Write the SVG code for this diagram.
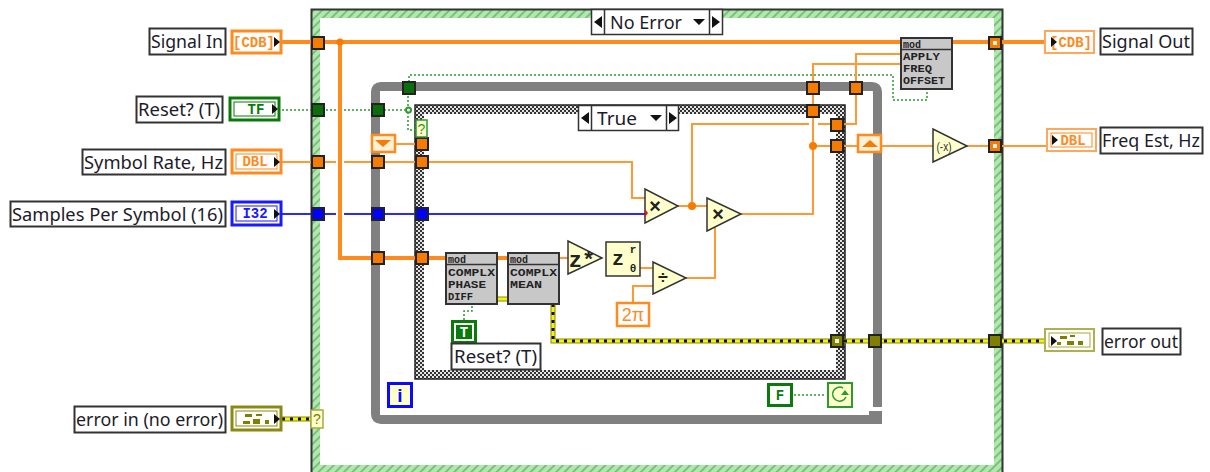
<svg xmlns="http://www.w3.org/2000/svg" width="1210" height="472" viewBox="0 0 1210 472">
<style>
.lbl{font-family:"Noto Sans","Open Sans","Liberation Sans",sans-serif;font-size:18px;fill:#1c1c2a}
.box{fill:#fff;stroke:#333;stroke-width:2}
.sel{fill:#fff;stroke:#333;stroke-width:1.5}
.or{fill:#f57c00;stroke:#222;stroke-width:2}
.gr{fill:#0a6e0a;stroke:#222;stroke-width:2}
.bl{fill:#0000ff;stroke:#222;stroke-width:2}
.ol{fill:#808000;stroke:#222;stroke-width:2}
.dot{fill:#eee;stroke:none}
.w1{fill:none;stroke:#ff9933;stroke-width:2}
.w2{fill:none;stroke:#ff8a1e;stroke-width:4}
.wb{fill:none;stroke:#2a2aff;stroke-width:2}
.wg{fill:none;stroke:#2c9a2c;stroke-width:1.500;stroke-dasharray:2 2}
.e1{fill:none;stroke:#8a8a10;stroke-width:5}
.e2{fill:none;stroke:#f5f500;stroke-width:3}
.e3{fill:none;stroke:#111;stroke-width:3;stroke-dasharray:3 5}
.prim{fill:#ffffcc;stroke:#333;stroke-width:1.5}
.sub{fill:#c8c8c8;stroke:#333;stroke-width:2}
.m{font-family:"Liberation Mono",monospace;font-weight:bold;fill:#222}
.s{font-size:10px}
.t{font-family:"Liberation Mono",monospace;font-weight:bold;font-size:14px}
.ar{fill:#111}
</style>
<defs>
<pattern id="hatch" width="6" height="6" patternUnits="userSpaceOnUse" patternTransform="rotate(-45)">
<rect width="6" height="6" fill="#b0e8b0"/><rect width="6" height="2" fill="#7cc07c"/>
</pattern>
<pattern id="check" width="4" height="4" patternUnits="userSpaceOnUse">
<rect width="4" height="4" fill="#333"/><rect x="0" y="0" width="2" height="2" fill="#e4e4e4"/><rect x="2" y="2" width="2" height="2" fill="#e4e4e4"/>
</pattern>
</defs>

<g id="case-outer">
<path d="M316 472V14H998V472M316 469H998" fill="none" stroke="url(#hatch)" stroke-width="8"/>
<path d="M311.500 472V9.500H1002.500V472" fill="none" stroke="#333" stroke-width="2"/>
</g>
<g id="while-loop">
<path d="M877.500 407V92Q877.500 86.500 872 86.500H381Q375.500 86.500 375.500 92V414Q375.500 419.500 381 419.500H882" fill="none" stroke="#808080" stroke-width="9"/>
<rect x="869" y="411" width="13" height="5" fill="#808080"/>
</g>
<g id="case-inner">
<rect x="419.500" y="109.500" width="421" height="265" fill="#fff" stroke="url(#check)" stroke-width="9"/>
<rect x="415" y="105" width="430" height="274" fill="none" stroke="#222" stroke-width="1.500"/>
</g>

<g id="connectors">
<path class="w2" d="M282 42H1045"/>
<path class="w2" d="M340 42V258H446M497 258H508"/>
<path class="w1" d="M559 258H568"/>
<path class="w1" d="M282 162H336M344 162H632V198H645"/>
<path class="wb" d="M282 214H336M344 214H645"/>
<path class="wg" d="M282 110H336M344 110H408M408 88V130H416M409 82V75H893V100H927V89"/>
<path class="w1" d="M396 144H416"/>
<path class="w1" d="M678 206H707"/>
<path class="w1" d="M692 206V124H809M818 124H830"/>
<path class="w1" d="M741 214H813V64H901"/>
<path class="w1" d="M813 146H830"/>
<path class="w1" d="M844 146H857"/>
<path class="w1" d="M844 124H856V54H901"/>
<path class="w1" d="M882 146H933M967 146H1046"/>
<path class="w1" d="M640 268H653M633 302V286H653M686 278H715V226"/>
<path class="wg" d="M464 320V311H472V306"/>
<path class="wg" d="M794 395H826"/>
<path class="e1" d="M553 304V341H1045"/><path class="e2" d="M553 304V341H1045"/><path class="e3" d="M553 304V341H1045"/>
<path class="e1" d="M497 299H508"/><path class="e2" d="M497 299H508"/>
<path class="e1" d="M282 419H311"/><path class="e2" d="M282 419H311"/><path class="e3" d="M282 419H311"/>
<circle cx="340" cy="42" r="3.500" fill="#f57c00"/>
<circle cx="692" cy="206" r="4" fill="#f57c00"/>
<circle cx="813" cy="146" r="4" fill="#f57c00"/>
<circle cx="408.500" cy="110" r="2.500" fill="#fff" stroke="#2c9a2c" stroke-width="2"/>
</g>

<g id="tunnels">
<rect class="or" x="312" y="37" width="12" height="12"/>
<rect class="gr" x="312" y="104" width="12" height="12"/>
<rect class="or" x="312" y="156" width="12" height="12"/>
<rect class="bl" x="312" y="208" width="12" height="12"/>
<rect class="gr" x="372" y="104" width="12" height="12"/>
<rect class="or" x="372" y="156" width="12" height="12"/>
<rect class="bl" x="372" y="208" width="12" height="12"/>
<rect class="or" x="372" y="252" width="12" height="12"/>
<rect class="gr" x="403" y="82" width="12" height="12"/>
<rect class="or" x="416" y="138" width="12" height="12"/>
<rect class="or" x="416" y="156" width="12" height="12"/>
<rect class="bl" x="416" y="208" width="12" height="12"/>
<rect class="or" x="416" y="252" width="12" height="12"/>
<rect class="or" x="807" y="82" width="12" height="12"/>
<rect class="or" x="850" y="82" width="12" height="12"/>
<rect class="or" x="807" y="105" width="12" height="12"/>
<rect class="or" x="831" y="119" width="12" height="12"/>
<rect class="or" x="831" y="140" width="12" height="12"/>
<rect class="or" x="989" y="37" width="12" height="12"/><rect class="dot" x="993" y="41" width="4" height="4"/>
<rect class="or" x="989" y="140" width="12" height="12"/><rect class="dot" x="993" y="144" width="4" height="4"/>
<rect class="ol" x="831" y="335" width="12" height="12"/><rect class="dot" x="835" y="339" width="4" height="4"/>
<rect class="ol" x="869" y="335" width="12" height="12"/>
<rect class="ol" x="989" y="335" width="12" height="12"/>
</g>

<g id="selector-no-error">
<rect class="sel" x="591.500" y="9.500" width="131" height="25"/>
<path d="M604.500 9.500V34.500M709.500 9.500V34.500" stroke="#333" stroke-width="1.500"/>
<path class="ar" d="M594 22l8-6v12zM720 22l-8-6v12zM693 19h12l-6 6z"/>
<text class="lbl" x="610" y="29" textLength="72" lengthAdjust="spacingAndGlyphs">No Error</text>
</g>
<g id="selector-true">
<rect class="sel" x="578.500" y="105.500" width="100" height="25"/>
<path d="M591.500 105.500V130.500M666.500 105.500V130.500" stroke="#333" stroke-width="1.500"/>
<path class="ar" d="M581 118l8-6v12zM677 118l-8-6v12zM650 115h12l-6 6z"/>
<text class="lbl" x="597" y="125" textLength="40" lengthAdjust="spacingAndGlyphs">True</text>
</g>
<g id="case-in-selector"><rect x="416" y="120" width="11" height="17" fill="#ffffcc" stroke="#2c9a2c" stroke-width="1.500"/><text x="421.500" y="134" text-anchor="middle" font-family="Liberation Sans,sans-serif" font-size="14" fill="#2c9a2c">?</text></g>
<g id="error-selector"><rect x="311" y="410" width="12" height="18" fill="#ffffcc" stroke="#a8a840" stroke-width="1.500"/><text x="317" y="424" text-anchor="middle" font-family="Liberation Sans,sans-serif" font-size="14" fill="#808000">?</text></g>

<g id="shift-left"><rect x="372" y="135" width="23" height="17" fill="#fff0d8" stroke="#ff8a1e" stroke-width="2.500"/><path d="M375 140h16l-8 7z" fill="#f57c00"/></g>
<g id="shift-right"><rect x="858" y="135" width="23" height="17" fill="#fff0d8" stroke="#ff8a1e" stroke-width="2.500"/><path d="M862 147h16l-8-7z" fill="#f57c00"/></g>

<g id="mult1"><path class="prim" d="M645 189V223L678 206Z"/><text class="m" x="655" y="213" text-anchor="middle" font-size="20">×</text></g>
<path d="M645 209l3 4-3 4z" fill="#ee1111"/>
<g id="mult2"><path class="prim" d="M707 198V231L741 214Z"/><text class="m" x="718" y="221" text-anchor="middle" font-size="20">×</text></g>
<g id="negate"><path class="prim" d="M933 129V162L967 146Z"/><text x="944" y="151" text-anchor="middle" font-family="Liberation Sans,sans-serif" font-size="13" fill="#333" textLength="15" lengthAdjust="spacingAndGlyphs">(-x)</text></g>
<g id="conj"><path class="prim" d="M568 241V274L602 258Z"/><text class="m" x="582" y="267" text-anchor="middle" font-size="22">z*</text></g>
<g id="polar"><rect class="prim" x="606" y="242" width="34" height="34"/><text class="m" x="612" y="265" font-size="20">z</text><text class="m" x="633" y="253" text-anchor="middle" font-size="11">r</text><text class="m" x="633" y="272" text-anchor="middle" font-size="11">θ</text></g>
<g id="divide"><path class="prim" d="M653 262V294L686 278Z"/><text class="m" x="663" y="284" text-anchor="middle" font-size="18">÷</text></g>
<g id="two-pi"><rect x="617" y="303" width="32" height="23" fill="#fff" stroke="#ff8a1e" stroke-width="2.500"/><text x="633" y="321" text-anchor="middle" font-family="Liberation Sans,sans-serif" font-size="18" fill="#ff8a1e">2π</text></g>

<g id="apply-freq">
<rect class="sub" x="901" y="38" width="51" height="51"/><path d="M901 49.500H952" stroke="#333" stroke-width="1.500"/>
<text class="m s" x="903" y="48">mod</text>
<text class="m s" x="903" y="60" textLength="37" lengthAdjust="spacingAndGlyphs">APPLY</text><text class="m s" x="903" y="72" textLength="29" lengthAdjust="spacingAndGlyphs">FREQ</text><text class="m s" x="903" y="84" textLength="42" lengthAdjust="spacingAndGlyphs">OFFSET</text>
</g>
<g id="phase-diff">
<rect class="sub" x="446" y="253" width="51" height="51"/><path d="M446 264.500H497" stroke="#333" stroke-width="1.500"/>
<text class="m s" x="448" y="263">mod</text>
<text class="m s" x="448" y="276" textLength="47" lengthAdjust="spacingAndGlyphs">COMPLX</text><text class="m s" x="448" y="288" textLength="38" lengthAdjust="spacingAndGlyphs">PHASE</text><text class="m s" x="448" y="300" textLength="25" lengthAdjust="spacingAndGlyphs">DIFF</text>
</g>
<g id="complex-mean">
<rect class="sub" x="508" y="253" width="51" height="51"/><path d="M508 264.500H559" stroke="#333" stroke-width="1.500"/>
<text class="m s" x="510" y="263">mod</text>
<text class="m s" x="510" y="276" textLength="47" lengthAdjust="spacingAndGlyphs">COMPLX</text><text class="m s" x="510" y="288" textLength="32" lengthAdjust="spacingAndGlyphs">MEAN</text>
</g>

<g id="const-true"><rect x="452.500" y="321.500" width="23" height="21" fill="#fff" stroke="#0a7a0a" stroke-width="3"/><rect x="456" y="325" width="16" height="14" fill="#0a7a0a"/><text x="464" y="337" text-anchor="middle" class="t" fill="#fff">T</text></g>
<g id="label-reset-inner"><rect class="box" x="451.500" y="343.500" width="89" height="26"/><text class="lbl" x="454" y="363" textLength="83" lengthAdjust="spacingAndGlyphs">Reset? (T)</text></g>
<g id="iter"><rect x="388.500" y="383.500" width="23" height="23" fill="#ffffcc" stroke="#0a0aff" stroke-width="3"/><text x="400" y="402" text-anchor="middle" font-family="Liberation Sans,sans-serif" font-weight="bold" font-size="19" fill="#0a0aff">i</text></g>
<g id="const-false"><rect x="768.500" y="384.500" width="23" height="21" fill="#fff" stroke="#0a7a0a" stroke-width="3"/><text x="780" y="400" text-anchor="middle" class="t" fill="#0a7a0a">F</text></g>
<g id="loop-cond"><rect x="828" y="383" width="24" height="24" fill="#ffffcc" stroke="#2c9a2c" stroke-width="2"/><path d="M843 388a7 7 0 1 0 3 9" fill="none" stroke="#2c9a2c" stroke-width="1.500"/><path d="M841 395h8l-4-5z" fill="#2c9a2c"/></g>

<g id="signal-in"><rect class="box" x="149.500" y="28.500" width="76" height="26"/><text class="lbl" x="151" y="48" textLength="72" lengthAdjust="spacingAndGlyphs">Signal In</text>
<rect x="232" y="31" width="49" height="22" fill="#fff" stroke="#ff8a1e" stroke-width="3"/><text class="t" x="254" y="47" text-anchor="middle" fill="#ff8a1e">[CDB]</text><path class="ar" d="M274 37l6 5-6 5z"/></g>
<g id="reset-in"><rect class="box" x="136.500" y="96.500" width="86" height="26"/><text class="lbl" x="138" y="116" textLength="82" lengthAdjust="spacingAndGlyphs">Reset? (T)</text>
<rect x="230" y="98" width="49" height="22" fill="#fff" stroke="#0a7a0a" stroke-width="3"/><rect x="234" y="102" width="41" height="14" fill="#fff" stroke="#0a7a0a" stroke-width="1"/><text class="t" x="256" y="114" text-anchor="middle" fill="#0a7a0a">TF</text><path class="ar" d="M272 104l6 5-6 5z"/></g>
<g id="symbol-rate"><rect class="box" x="82.500" y="149.500" width="143" height="25"/><text class="lbl" x="84" y="169" textLength="139" lengthAdjust="spacingAndGlyphs">Symbol Rate, Hz</text>
<rect x="232" y="150" width="49" height="23" fill="#fff" stroke="#ff8a1e" stroke-width="3"/><rect x="236" y="154" width="41" height="15" fill="#fff" stroke="#ff8a1e" stroke-width="1"/><text class="t" x="255" y="166" text-anchor="middle" fill="#ff8a1e">DBL</text><path class="ar" d="M274 157l6 5-6 5z"/></g>
<g id="samples"><rect class="box" x="10.500" y="201.500" width="215" height="25"/><text class="lbl" x="12" y="221" textLength="211" lengthAdjust="spacingAndGlyphs">Samples Per Symbol (16)</text>
<rect x="232" y="202" width="49" height="23" fill="#fff" stroke="#1a1aff" stroke-width="3"/><rect x="236" y="206" width="41" height="15" fill="#fff" stroke="#1a1aff" stroke-width="1"/><text class="t" x="255" y="218" text-anchor="middle" fill="#1a1aff">I32</text><path class="ar" d="M274 209l6 5-6 5z"/></g>
<g id="error-in"><rect class="box" x="74.500" y="406.500" width="151" height="26"/><text class="lbl" x="76" y="426" textLength="147" lengthAdjust="spacingAndGlyphs">error in (no error)</text>
<rect x="232" y="407" width="49" height="23" fill="#fff" stroke="#8a8a10" stroke-width="3"/><rect x="236" y="411" width="41" height="15" fill="#fff" stroke="#8a8a10" stroke-width="1"/><path d="M245 414h7v3h-7zM243 421h7v3h-7zM253 419h7v5h-7zM256 414h6v2h-6zM265 420h4v4h-4z" fill="#808000"/><path class="ar" d="M274 414l6 5-6 5z"/></g>

<g id="signal-out"><rect x="1045" y="31" width="49" height="22" fill="#fff" stroke="#ffa85c" stroke-width="2"/><text class="t" x="1071" y="47" text-anchor="middle" fill="#ff8a1e">[CDB]</text><path class="ar" d="M1051 37l6 5-6 5z"/><rect class="box" x="1100.500" y="28.500" width="92" height="26"/><text class="lbl" x="1102" y="48" textLength="88" lengthAdjust="spacingAndGlyphs">Signal Out</text></g>
<g id="freq-est"><rect x="1047" y="129" width="49" height="22" fill="#fff" stroke="#ffa85c" stroke-width="2"/><rect x="1051" y="133" width="41" height="14" fill="#fff" stroke="#ff8a1e" stroke-width="1"/><text class="t" x="1073" y="145" text-anchor="middle" fill="#ff8a1e">DBL</text><path class="ar" d="M1052 135l6 5-6 5z"/><rect class="box" x="1100.500" y="127.500" width="102" height="26"/><text class="lbl" x="1102" y="147" textLength="98" lengthAdjust="spacingAndGlyphs">Freq Est, Hz</text></g>
<g id="error-out"><rect x="1045" y="329" width="49" height="22" fill="#fff" stroke="#b0b050" stroke-width="2"/><rect x="1049" y="333" width="41" height="14" fill="#fff" stroke="#a8a840" stroke-width="1"/><path d="M1060 336h7v3h-7zM1057 342h4v3h-4zM1067 341h7v4h-7zM1070 335h5v2h-5zM1078 341h5v4h-5z" fill="#808000"/><path class="ar" d="M1051 336l6 5-6 5z"/><rect class="box" x="1102.500" y="328.500" width="78" height="26"/><text class="lbl" x="1104" y="348" textLength="74" lengthAdjust="spacingAndGlyphs">error out</text></g>
</svg>
